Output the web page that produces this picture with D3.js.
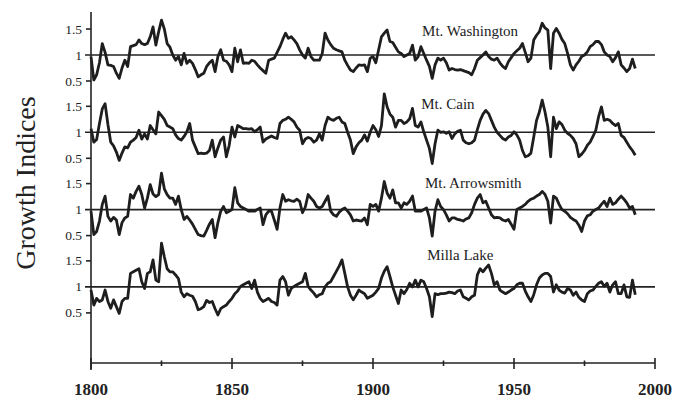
<!DOCTYPE html>
<html>
<head>
<meta charset="utf-8">
<title>Growth Indices</title>
<script src="https://d3js.org/d3.v7.min.js"></script>
<style>
    body { margin: 0; background: #fff; }
    svg { display: block; }
    .series-line { fill: none; stroke: #1e1e1e; stroke-width: 2.8px; stroke-linejoin: round; }
    .one-line { stroke: #222; stroke-width: 1.6px; }
    .axis-line { stroke: #222; stroke-width: 1.6px; }
    .tick-lbl { font-family: "Liberation Serif", "Times New Roman", serif; font-size: 13.5px; fill: #222; }
    .site-lbl { font-family: "Liberation Serif", "Times New Roman", serif; font-size: 15px; fill: #222; }
    .year-lbl { font-family: "Liberation Serif", "Times New Roman", serif; font-size: 17px; font-weight: bold; fill: #222; }
    .y-title { font-family: "Liberation Serif", "Times New Roman", serif; font-size: 28px; fill: #222; }
</style>
</head>
<body>
<script>
// years covered by the chronologies
var firstYear = 1800, lastYear = 1993;

var sites = ["Mt. Washington", "Mt. Cain", "Mt. Arrowsmith", "Milla Lake"];

var washington = [
 0.97,0.52,0.62,0.85,1.22,1.05,0.81,0.80,0.78,0.65,
 0.55,0.75,0.90,0.78,1.16,1.18,1.20,1.29,1.22,1.20,
 1.22,1.35,1.54,1.19,1.45,1.67,1.50,1.22,1.15,1.00,
 0.90,0.97,0.81,1.03,0.84,0.90,0.84,0.72,0.58,0.62,
 0.65,0.78,0.85,0.90,0.68,0.97,1.10,0.90,0.88,0.81,
 0.68,1.13,0.87,1.10,0.84,0.85,0.84,0.90,0.88,0.81,
 0.75,0.70,0.65,0.90,0.92,0.94,1.05,1.16,1.30,1.42,
 1.32,1.35,1.29,1.22,1.10,1.00,0.94,1.13,0.97,0.90,
 0.90,0.90,1.03,1.42,1.29,1.20,1.13,1.10,1.08,1.06,
 0.90,0.80,0.71,0.68,0.75,0.81,0.80,0.81,0.68,0.94,
 0.97,0.85,1.10,1.35,1.42,1.48,1.26,1.24,1.15,1.06,
 1.03,0.97,1.00,1.03,1.19,0.90,0.97,1.16,1.03,0.90,
 0.78,0.55,0.81,0.94,0.90,0.94,0.85,0.71,0.74,0.72,
 0.71,0.72,0.70,0.68,0.66,0.62,0.74,0.90,0.95,1.00,
 1.06,0.97,0.92,0.90,0.94,0.85,0.78,0.74,0.87,0.95,
 1.03,1.08,1.13,1.22,1.05,0.87,0.94,1.29,1.38,1.45,
 1.61,1.52,1.48,0.74,1.42,1.51,1.42,1.30,1.22,1.03,
 0.81,0.71,0.81,0.88,0.97,1.00,1.06,1.16,1.20,1.26,
 1.26,1.20,1.06,1.00,0.97,0.87,0.95,1.06,0.81,0.75,
 0.68,0.74,0.92,0.74
];

var cain = [
 1.07,0.81,0.86,1.17,1.45,1.55,1.15,0.81,0.74,0.62,
 0.46,0.60,0.72,0.70,0.81,0.85,0.90,1.04,0.87,0.97,
 0.87,1.13,1.05,0.97,1.39,1.32,1.25,1.13,1.10,1.07,
 0.95,0.88,0.85,0.92,1.01,1.17,0.85,0.72,0.59,0.60,
 0.59,0.60,0.65,0.85,0.53,0.70,0.85,0.91,0.53,0.75,
 1.10,0.91,1.13,1.10,1.07,1.07,1.06,1.07,1.01,1.05,
 1.10,0.81,0.87,0.90,0.93,0.90,0.88,1.17,1.23,1.25,
 1.29,1.25,1.20,1.10,1.04,0.78,0.87,0.90,0.88,0.81,
 0.85,0.97,0.85,1.13,1.29,1.25,1.23,1.27,1.29,1.20,
 1.17,1.00,0.85,0.59,0.72,0.80,0.85,0.95,0.83,1.00,
 1.13,1.05,0.92,1.13,1.74,1.49,1.35,1.29,1.10,1.23,
 1.23,1.17,1.20,1.26,1.46,1.13,1.10,1.20,1.01,0.85,
 0.69,0.40,0.78,1.04,1.00,1.01,0.98,1.01,0.88,0.97,
 1.02,1.04,0.85,0.80,0.78,0.80,0.85,1.05,1.23,1.35,
 1.42,1.36,1.23,1.10,1.00,0.94,0.88,0.85,0.91,0.94,
 1.01,0.95,0.85,0.65,0.53,0.55,0.60,0.91,1.23,1.39,
 1.62,1.39,1.10,0.53,1.29,1.07,1.20,1.15,1.04,0.98,
 0.94,0.88,0.78,0.53,0.58,0.65,0.75,0.81,0.92,1.04,
 1.30,1.49,1.23,1.25,1.23,1.17,1.13,1.17,0.94,0.90,
 0.81,0.72,0.65,0.56
];

var arrowsmith = [
 0.97,0.52,0.58,0.78,1.10,1.26,0.87,0.78,0.85,0.80,
 0.52,0.75,0.84,0.87,1.29,1.22,1.35,1.45,1.29,1.03,
 1.22,1.48,1.30,1.25,1.29,1.70,1.40,1.29,1.22,1.22,
 1.10,1.26,1.00,0.81,0.87,0.80,0.72,0.62,0.52,0.50,
 0.49,0.60,0.72,0.81,0.46,0.75,0.97,1.06,0.94,0.97,
 1.00,1.42,1.13,1.06,1.03,1.00,0.97,0.97,0.97,1.00,
 1.03,0.71,0.90,0.97,0.97,0.80,0.62,1.03,1.29,1.16,
 1.19,1.17,1.16,1.20,1.16,0.94,1.05,1.29,1.22,1.16,
 1.06,1.03,1.06,1.16,1.26,0.97,0.90,0.87,0.95,1.00,
 1.03,0.97,0.90,0.78,0.80,0.79,0.78,0.84,0.71,1.10,
 1.06,1.10,0.97,1.22,1.54,1.32,1.22,1.38,1.13,1.13,
 1.03,1.13,1.10,1.16,1.26,0.97,0.97,0.97,1.00,1.03,
 0.84,0.49,0.97,1.19,1.06,1.00,0.90,0.78,0.84,0.84,
 0.81,0.80,0.78,0.82,0.84,0.94,1.10,1.22,1.29,1.13,
 1.16,1.03,0.90,0.84,0.85,0.84,0.80,0.78,0.81,0.72,
 0.62,1.00,1.03,1.06,1.10,1.16,1.20,1.22,1.26,1.29,
 1.35,1.29,1.16,0.74,1.26,1.22,1.10,1.00,0.97,0.92,
 0.85,0.81,0.78,0.70,0.58,0.78,0.88,0.90,0.97,1.00,
 1.03,1.10,1.16,1.06,1.22,1.10,1.13,1.20,1.26,1.20,
 1.13,1.03,1.06,0.90
];

var milla = [
 0.94,0.65,0.78,0.72,0.75,0.94,0.72,0.59,0.75,0.62,
 0.49,0.72,0.78,0.78,1.26,1.29,1.32,1.35,1.10,0.97,
 1.26,1.29,1.52,1.13,1.10,1.84,1.58,1.35,1.29,1.29,
 1.23,1.16,0.90,0.81,0.87,0.84,0.82,0.72,0.56,0.58,
 0.62,0.74,0.70,0.72,0.58,0.46,0.58,0.62,0.65,0.72,
 0.78,0.87,0.92,1.01,1.04,1.07,1.10,0.97,1.13,0.90,
 0.78,0.72,0.75,0.78,0.72,0.70,0.65,1.13,1.20,1.10,
 0.84,0.97,1.01,1.04,1.07,1.10,1.26,1.01,0.94,0.88,
 0.81,0.85,0.87,1.00,1.07,1.10,1.20,1.30,1.40,1.52,
 1.26,1.00,0.84,0.75,0.84,0.94,0.90,0.87,0.78,0.81,
 0.84,0.90,0.97,1.17,1.30,1.39,1.20,1.00,0.84,0.68,
 0.94,0.87,0.95,1.07,1.00,1.13,1.00,1.13,1.10,0.97,
 0.81,0.43,0.87,0.85,0.87,0.87,0.88,0.90,0.89,0.87,
 0.92,0.94,0.81,0.78,0.75,0.81,0.84,1.23,1.35,1.29,
 1.36,1.42,1.26,1.04,1.10,0.94,0.90,0.87,0.90,0.94,
 0.97,1.04,1.07,1.07,0.92,0.81,0.72,0.85,1.04,1.17,
 1.23,1.26,1.26,1.20,0.90,1.04,0.94,0.90,0.88,0.97,
 0.94,0.84,0.90,0.80,0.75,0.72,0.87,0.92,0.94,1.01,
 1.07,1.10,1.01,1.07,0.90,1.04,1.10,0.87,0.87,1.04,
 0.81,0.80,1.13,0.85
];

var seriesValues = [washington, cain, arrowsmith, milla];
var yTickValues = [0.5, 1, 1.5];
var yearTicks = [1800, 1825, 1850, 1875, 1900, 1925, 1950, 1975, 2000];
var yearLabels = [1800, 1850, 1900, 1950, 2000];

var width = 683, height = 398;

var svg = d3.select("body").append("svg")
    .attr("width", width)
    .attr("height", height);

var x = d3.scaleLinear().domain([1800, 2000]).range([91, 655]);

// each panel is centred on index 1
var panelTop = 55, panelStep = 77.3, halfUnit = 52;
function panelScale(i) {
    var base = panelTop + panelStep * i;
    return d3.scaleLinear().domain([0, 1]).range([base + halfUnit, base]);
}

var line = d3.line()
    .x(function(d) { return x(d.year); })
    .y(function(d) { return d.yv; });

var labelDy = [-19, -23, -22, -27];
var labelYear = [1917.4, 1917.1, 1918.4, 1919.2];

seriesValues.forEach(function(vals, i) {
    var y = panelScale(i);
    var pts = vals.map(function(v, k) { return { year: firstYear + k, yv: y(v) }; });

    svg.append("line")
        .attr("class", "one-line")
        .attr("x1", x(1800) - 6).attr("x2", x(2000))
        .attr("y1", y(1)).attr("y2", y(1));

    yTickValues.forEach(function(t) {
        if (t != 1) {
            svg.append("line")
                .attr("class", "axis-line")
                .attr("x1", x(1800) - 5).attr("x2", x(1800))
                .attr("y1", y(t)).attr("y2", y(t));
        }
        svg.append("text")
            .attr("class", "tick-lbl")
            .attr("x", x(1800) - 9)
            .attr("y", y(t) + 4.5)
            .attr("text-anchor", "end")
            .text(t);
    });

    svg.append("path")
        .datum(pts)
        .attr("class", "series-line")
        .attr("d", line);

    svg.append("text")
        .attr("class", "site-lbl")
        .attr("x", x(labelYear[i]))
        .attr("y", y(1) + labelDy[i])
        .text(sites[i]);
});

// axes
var axisY = 363;
svg.append("line").attr("class", "axis-line")
    .attr("x1", x(1800)).attr("x2", x(1800))
    .attr("y1", 12).attr("y2", 370);
svg.append("line").attr("class", "axis-line")
    .attr("x1", x(1800)).attr("x2", x(2000))
    .attr("y1", axisY).attr("y2", axisY);

svg.selectAll(".xtick")
    .data(yearTicks)
    .enter().append("line")
    .attr("class", "axis-line xtick")
    .attr("x1", function(d) { return x(d); })
    .attr("x2", function(d) { return x(d); })
    .attr("y1", function(d) { return d % 50 == 0 ? axisY - 5 : axisY - 2.5; })
    .attr("y2", function(d) { return d % 50 == 0 ? axisY + 6 : axisY + 3; });

svg.selectAll(".year-lbl")
    .data(yearLabels)
    .enter().append("text")
    .attr("class", "year-lbl")
    .attr("x", function(d) { return x(d); })
    .attr("y", 395)
    .attr("text-anchor", "middle")
    .text(function(d) { return d; });

svg.append("text")
    .attr("class", "y-title")
    .attr("transform", "translate(35,183) rotate(-90)")
    .attr("text-anchor", "middle")
    .text("Growth Indices");
</script>
</body>
</html>
